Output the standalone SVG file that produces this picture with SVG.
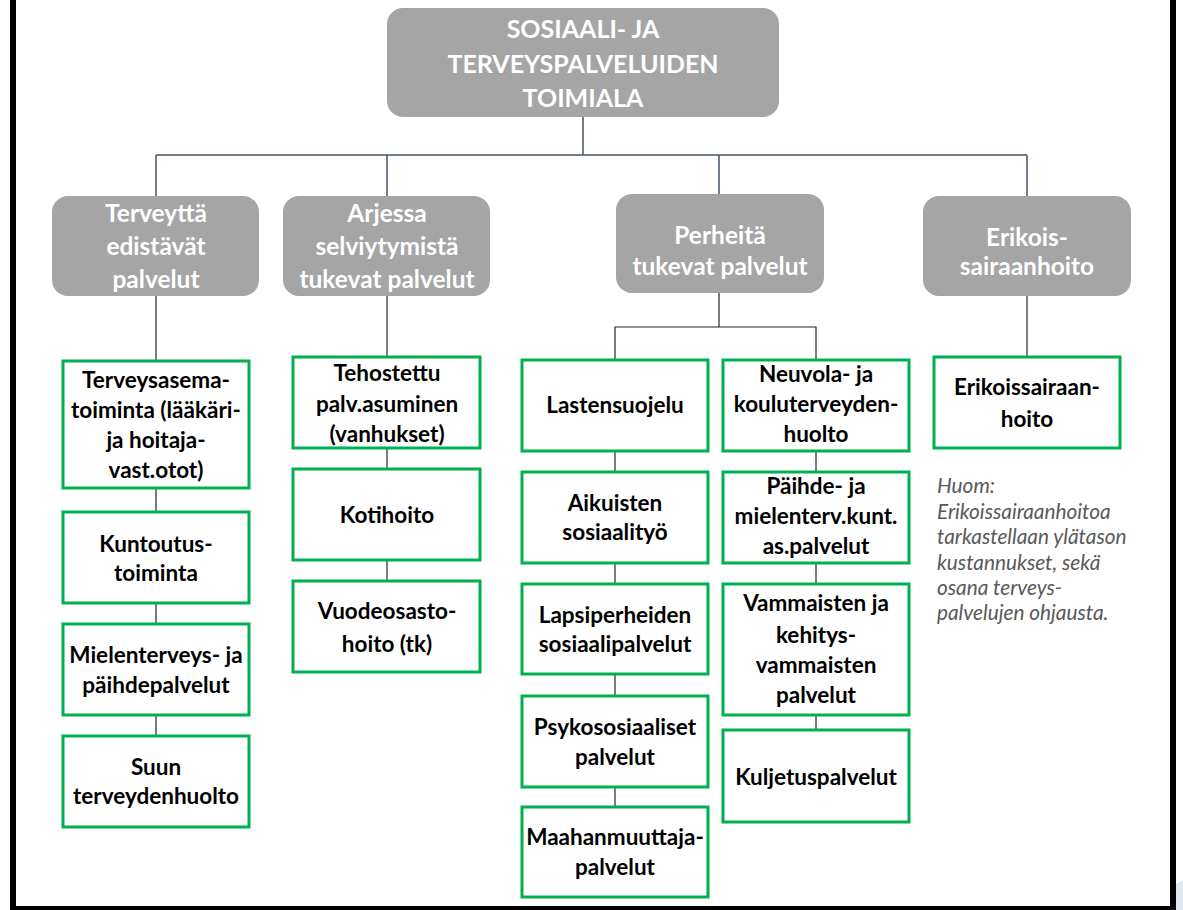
<svg xmlns="http://www.w3.org/2000/svg" width="1183" height="910" viewBox="0 0 1183 910">
<style>
.g{fill:#a5a5a5}
.b{fill:#ffffff;stroke:#00b050;stroke-width:3}
.wt{font-family:Lato,"Open Sans",sans-serif;font-weight:bold;fill:#ffffff;text-anchor:middle}
.bt{font-family:Lato,"Open Sans",sans-serif;font-weight:bold;fill:#000000;text-anchor:middle;font-size:22.5px}
.note{font-family:Lato,"Open Sans",sans-serif;font-style:italic;fill:#595959;font-size:20.8px}
.c1{stroke:#44546a;stroke-width:1.5;fill:none}
.c2{stroke:#262626;stroke-width:1.2;fill:none}
</style>
<rect x="0" y="0" width="1183" height="910" fill="#ffffff"/>
<g id="frame">
<rect x="10" y="0" width="6" height="910" fill="#000"/>
<rect x="1170" y="0" width="6" height="910" fill="#000"/>
<rect x="10" y="906" width="1166" height="4" fill="#000"/>
<path d="M1176 884 L1183 880 L1183 910 L1176 910 Z" fill="#dfe7f1"/>
</g>
<g id="connectors">
<path class="c1" d="M583 117 V155 M156 155 H1027 M156 155 V196 M387 155 V196 M719 155 V194 M1027 155 V196"/>
<path class="c2" d="M156 296 V361 M156 488 V512 M156 603 V624 M156 715 V736"/>
<path class="c2" d="M387 296 V357 M387 448 V469 M387 560 V581"/>
<path class="c2" d="M719 293 V327 H816 V360 M719 327 H615 V360 M615 451 V472 M615 563 V584 M615 674 V696 M615 787 V807"/>
<path class="c2" d="M816 451 V472 M816 563 V584 M816 715 V730"/>
<path class="c2" d="M1027 296 V357"/>
</g>
<g id="n-top">
<rect class="g" x="387" y="8" width="392" height="109" rx="16"/>
<text class="wt" font-size="25" x="583" y="38">SOSIAALI- JA</text>
<text class="wt" font-size="25" x="583" y="73">TERVEYSPALVELUIDEN</text>
<text class="wt" font-size="25" x="583" y="107">TOIMIALA</text>
</g>
<g id="n-terveytta">
<rect class="g" x="52" y="196" width="207" height="100" rx="16"/>
<text class="wt" font-size="24.5" x="156" y="222">Terveyttä</text>
<text class="wt" font-size="24.5" x="156" y="255">edistävät</text>
<text class="wt" font-size="24.5" x="156" y="288">palvelut</text>
</g>
<g id="n-arjessa">
<rect class="g" x="283" y="196" width="207" height="100" rx="16"/>
<text class="wt" font-size="24.5" x="387" y="222">Arjessa</text>
<text class="wt" font-size="24.5" x="387" y="255">selviytymistä</text>
<text class="wt" font-size="24.5" x="387" y="288">tukevat palvelut</text>
</g>
<g id="n-perheita">
<rect class="g" x="616" y="194" width="208" height="99" rx="16"/>
<text class="wt" font-size="24.5" x="720" y="244">Perheitä</text>
<text class="wt" font-size="24.5" x="720" y="275">tukevat palvelut</text>
</g>
<g id="n-erikois">
<rect class="g" x="923" y="196" width="208" height="100" rx="16"/>
<text class="wt" font-size="24.5" x="1027" y="246">Erikois-</text>
<text class="wt" font-size="24.5" x="1027" y="275">sairaanhoito</text>
</g>
<g id="n-terveysasema">
<rect class="b" x="63" y="361" width="186" height="127"/>
<text class="bt" x="156" y="388">Terveysasema-</text>
<text class="bt" x="156" y="418">toiminta (lääkäri-</text>
<text class="bt" x="156" y="448">ja hoitaja-</text>
<text class="bt" x="156" y="478">vast.otot)</text>
</g>
<g id="n-kuntoutus">
<rect class="b" x="63" y="512" width="186" height="91"/>
<text class="bt" x="156" y="552">Kuntoutus-</text>
<text class="bt" x="156" y="581">toiminta</text>
</g>
<g id="n-mielenterveys">
<rect class="b" x="63" y="624" width="186" height="91"/>
<text class="bt" x="156" y="663">Mielenterveys- ja</text>
<text class="bt" x="156" y="693">päihdepalvelut</text>
</g>
<g id="n-suun">
<rect class="b" x="63" y="736" width="186" height="91"/>
<text class="bt" x="156" y="775">Suun</text>
<text class="bt" x="156" y="804">terveydenhuolto</text>
</g>
<g id="n-tehostettu">
<rect class="b" x="293" y="357" width="187" height="91"/>
<text class="bt" x="387" y="381">Tehostettu</text>
<text class="bt" x="387" y="412">palv.asuminen</text>
<text class="bt" x="387" y="442">(vanhukset)</text>
</g>
<g id="n-kotihoito">
<rect class="b" x="293" y="469" width="187" height="91"/>
<text class="bt" x="387" y="523">Kotihoito</text>
</g>
<g id="n-vuodeosasto">
<rect class="b" x="293" y="581" width="187" height="91"/>
<text class="bt" x="387" y="619">Vuodeosasto-</text>
<text class="bt" x="387" y="652">hoito (tk)</text>
</g>
<g id="n-lastensuojelu">
<rect class="b" x="522" y="360" width="186" height="91"/>
<text class="bt" x="615" y="413">Lastensuojelu</text>
</g>
<g id="n-aikuisten">
<rect class="b" x="522" y="472" width="186" height="91"/>
<text class="bt" x="615" y="511">Aikuisten</text>
<text class="bt" x="615" y="540">sosiaalityö</text>
</g>
<g id="n-lapsiperheiden">
<rect class="b" x="522" y="584" width="186" height="90"/>
<text class="bt" x="615" y="623">Lapsiperheiden</text>
<text class="bt" x="615" y="652">sosiaalipalvelut</text>
</g>
<g id="n-psykososiaaliset">
<rect class="b" x="522" y="696" width="186" height="91"/>
<text class="bt" x="615" y="735">Psykososiaaliset</text>
<text class="bt" x="615" y="765">palvelut</text>
</g>
<g id="n-maahanmuuttaja">
<rect class="b" x="522" y="807" width="186" height="90"/>
<text class="bt" x="615" y="845">Maahanmuuttaja-</text>
<text class="bt" x="615" y="875">palvelut</text>
</g>
<g id="n-neuvola">
<rect class="b" x="723" y="360" width="186" height="91"/>
<text class="bt" x="816" y="382">Neuvola- ja</text>
<text class="bt" x="816" y="412">kouluterveyden-</text>
<text class="bt" x="816" y="442">huolto</text>
</g>
<g id="n-paihde">
<rect class="b" x="723" y="472" width="186" height="91"/>
<text class="bt" x="816" y="494">Päihde- ja</text>
<text class="bt" x="816" y="524">mielenterv.kunt.</text>
<text class="bt" x="816" y="554">as.palvelut</text>
</g>
<g id="n-vammaisten">
<rect class="b" x="723" y="584" width="186" height="131"/>
<text class="bt" x="816" y="611">Vammaisten ja</text>
<text class="bt" x="816" y="643">kehitys-</text>
<text class="bt" x="816" y="673">vammaisten</text>
<text class="bt" x="816" y="703">palvelut</text>
</g>
<g id="n-kuljetus">
<rect class="b" x="723" y="730" width="186" height="92"/>
<text class="bt" x="816" y="785">Kuljetuspalvelut</text>
</g>
<g id="n-erikoissairaanhoito">
<rect class="b" x="934" y="357" width="186" height="91"/>
<text class="bt" x="1027" y="395">Erikoissairaan-</text>
<text class="bt" x="1027" y="427">hoito</text>
</g>
<g id="note">
<text class="note" x="937" y="493">Huom:</text>
<text class="note" x="937" y="519">Erikoissairaanhoitoa</text>
<text class="note" x="937" y="544">tarkastellaan ylätason</text>
<text class="note" x="937" y="570">kustannukset, sekä</text>
<text class="note" x="937" y="595">osana terveys-</text>
<text class="note" x="937" y="620">palvelujen ohjausta.</text>
</g>
</svg>
